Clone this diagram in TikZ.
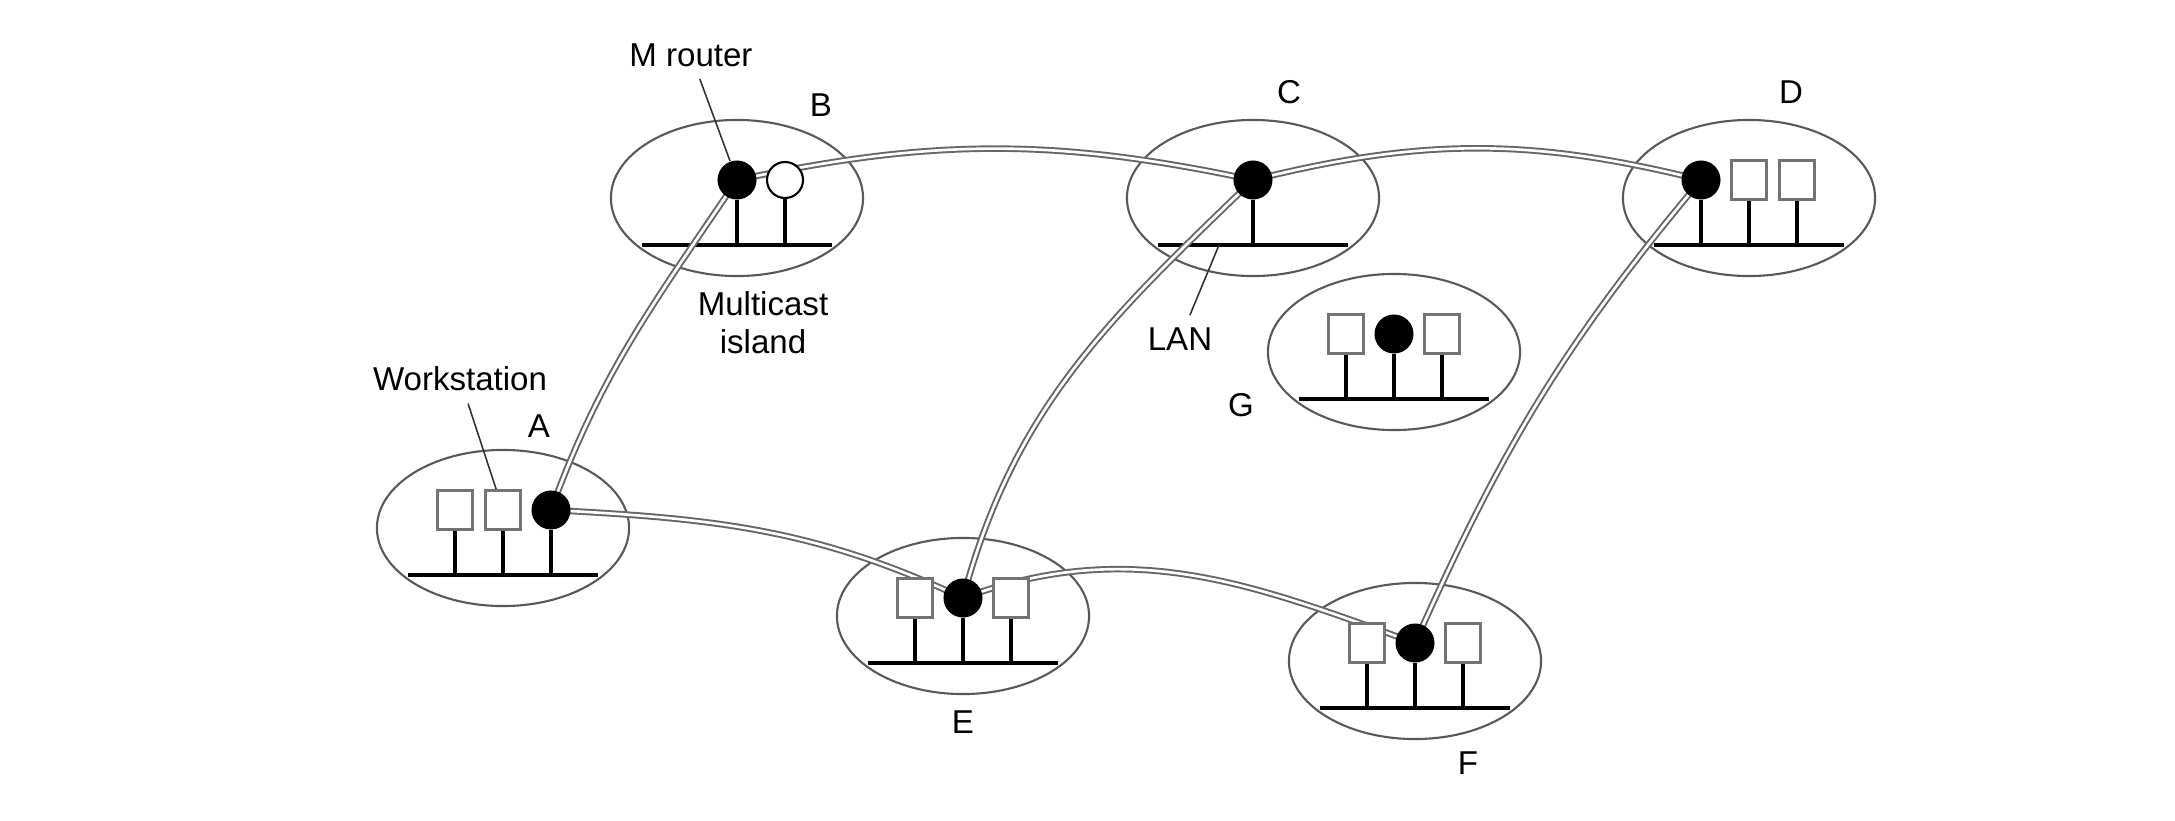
\documentclass[tikz,border=0pt]{standalone}
\usepackage{fontspec}
\setmainfont{Liberation Sans}
\usetikzlibrary{shapes.geometric}
\pgfdeclarelayer{front}
\pgfsetlayers{main,front}

\begin{document}
\begin{tikzpicture}[x=0.01cm, y=0.01cm]
	\tikzset{island/.style={ellipse, draw=black!65, line width=0.6pt, minimum width=2.52cm, minimum height=1.56cm, inner sep=0pt},
		router/.style={circle, fill=black, minimum size=0.39cm, inner sep=0pt},
		mrouter/.style={circle, draw=black, fill=white, line width=0.6pt, minimum size=0.36cm, inner sep=0pt},
		host/.style={rectangle, draw=black!55, fill=white, line width=0.85pt, minimum width=0.35cm, minimum height=0.39cm, inner sep=0pt},
		lan/.style={line width=1.4pt},
		stem/.style={line width=1.1pt},
		tunnel/.style={draw=black!60, line width=0.55pt, double=white, double distance=0.75pt},
		txt/.style={font=\fontsize{9.4}{10.8}\selectfont, align=center},
		leader/.style={line width=0.45pt, draw=black!80}}
	\useasboundingbox (0,0) rectangle (2175,820);

	\node[island] (A) at ( 503,292) {};
	\node[island] (B) at ( 737,622) {};
	\node[island] (C) at (1253,622) {};
	\node[island] (D) at (1749,622) {};
	\node[island] (E) at ( 963,204) {};
	\node[island] (F) at (1415,159) {};
	\node[island] (G) at (1394,468) {};

	\begin{pgfonlayer}{front}
		\node[host]    (wA1) at ( 455,310) {};
		\node[host]    (wA2) at ( 503,310) {};
		\node[router]  (rA)  at ( 551,310) {};
		\node[router]  (rB)  at ( 737,640) {};
		\node[mrouter] (mB)  at ( 785,640) {};
		\node[router]  (rC)  at (1253,640) {};
		\node[router]  (rD)  at (1701,640) {};
		\node[host]    (wD1) at (1749,640) {};
		\node[host]    (wD2) at (1797,640) {};
		\node[host]    (wE1) at ( 915,222) {};
		\node[router]  (rE)  at ( 963,222) {};
		\node[host]    (wE2) at (1011,222) {};
		\node[host]    (wF1) at (1367,177) {};
		\node[router]  (rF)  at (1415,177) {};
		\node[host]    (wF2) at (1463,177) {};
		\node[host]    (wG1) at (1346,486) {};
		\node[router]  (rG)  at (1394,486) {};
		\node[host]    (wG2) at (1442,486) {};
	\end{pgfonlayer}

	\coordinate (lanA1) at ( 408,245); \coordinate (lanA2) at ( 598,245);
	\coordinate (lanB1) at ( 642,575); \coordinate (lanB2) at ( 832,575);
	\coordinate (lanC1) at (1158,575); \coordinate (lanC2) at (1348,575);
	\coordinate (lanD1) at (1654,575); \coordinate (lanD2) at (1844,575);
	\coordinate (lanE1) at ( 868,157); \coordinate (lanE2) at (1058,157);
	\coordinate (lanF1) at (1320,112); \coordinate (lanF2) at (1510,112);
	\coordinate (lanG1) at (1299,421); \coordinate (lanG2) at (1489,421);

	\draw[lan] (lanA1) -- (lanA2);
	\draw[lan] (lanB1) -- (lanB2);
	\draw[lan] (lanC1) -- (lanC2);
	\draw[lan] (lanD1) -- (lanD2);
	\draw[lan] (lanE1) -- (lanE2);
	\draw[lan] (lanF1) -- (lanF2);
	\draw[lan] (lanG1) -- (lanG2);

	\draw[stem] (wA1) -- (wA1 |- lanA1);
	\draw[stem] (wA2) -- (wA2 |- lanA1);
	\draw[stem] (rA)  -- (rA  |- lanA1);
	\draw[stem] (rB)  -- (rB  |- lanB1);
	\draw[stem] (mB)  -- (mB  |- lanB1);
	\draw[stem] (rC)  -- (rC  |- lanC1);
	\draw[stem] (rD)  -- (rD  |- lanD1);
	\draw[stem] (wD1) -- (wD1 |- lanD1);
	\draw[stem] (wD2) -- (wD2 |- lanD1);
	\draw[stem] (wE1) -- (wE1 |- lanE1);
	\draw[stem] (rE)  -- (rE  |- lanE1);
	\draw[stem] (wE2) -- (wE2 |- lanE1);
	\draw[stem] (wF1) -- (wF1 |- lanF1);
	\draw[stem] (rF)  -- (rF  |- lanF1);
	\draw[stem] (wF2) -- (wF2 |- lanF1);
	\draw[stem] (wG1) -- (wG1 |- lanG1);
	\draw[stem] (rG)  -- (rG  |- lanG1);
	\draw[stem] (wG2) -- (wG2 |- lanG1);

	\draw[tunnel] (rA.center) to[out=70, in=236] (rB.center);
	\draw[tunnel] (rA.center) to[out=-3, in=155] (rE.center);
	\draw[tunnel] (rB.center) to[out=12, in=168] (rC.center);
	\draw[tunnel] (rC.center) to[out=14, in=166] (rD.center);
	\draw[tunnel] (rC.center) to[out=224, in=75] (rE.center);
	\draw[tunnel] (rD.center) to[out=230, in=66] (rF.center);
	\draw[tunnel] (rE.center) to[out=20, in=160] (rF.center);

	\node[txt] (lA) at ( 539,394) {A};
	\node[txt] (lB) at ( 821,715) {B};
	\node[txt] (lC) at (1289,728) {C};
	\node[txt] (lD) at (1791,728) {D};
	\node[txt] (lE) at ( 963, 98) {E};
	\node[txt] (lF) at (1468, 57) {F};
	\node[txt] (lG) at (1241,415) {G};

	\node[txt] (lMr)  at ( 691,765) {M router};
	\node[txt] (lMi)  at ( 763,497) {Multicast\\island};
	\node[txt] (lWs)  at ( 460,441) {Workstation};
	\node[txt] (lLAN) at (1180,481) {LAN};
	\coordinate (lanC) at (1219,575);

	\draw[leader] (lMr) -- (rB);
	\draw[leader] (lWs) -- (wA2);
	\draw[leader] (lanC) -- (lLAN);
\end{tikzpicture}
\end{document}
